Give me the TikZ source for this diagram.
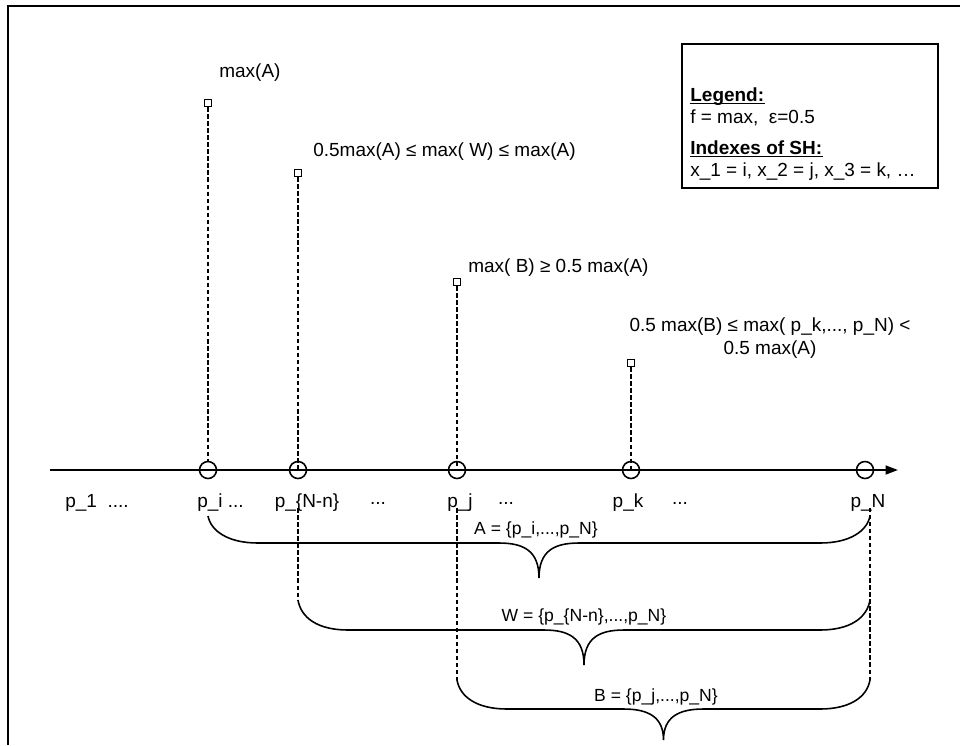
\documentclass[tikz,border=0pt]{standalone}
\usepackage{fontspec}
\setmainfont{Liberation Sans}
\usetikzlibrary{arrows.meta,positioning}
\tikzset{
  axisline/.style={-{Triangle[length=7pt,width=5pt]},line width=1.1pt},
  pointnode/.style={draw,circle,line width=0.9pt,minimum size=0.34cm,inner sep=0pt},
  marker/.style={draw,rectangle,line width=0.8pt,minimum size=0.14cm,inner sep=0pt},
  stem/.style={line width=0.8pt,dash pattern=on 2.5pt off 1.5pt},
  bracepath/.style={line width=0.9pt},
  textlabel/.style={inner sep=0pt,font=\fontsize{10.8}{13}\selectfont},
  setlabel/.style={inner sep=0pt,font=\fontsize{10}{12}\selectfont},
  legendbox/.style={draw,line width=1pt},
  headline/.style={line width=0.8pt},
  framebox/.style={line width=1.4pt}
}
% brace under a set: left x, right x, top y, line y, tip y
\newcommand{\setbrace}[5]{%
  \draw[bracepath] (#1,#3) .. controls (#1+3,#4-12) and (#1+20,#4) .. (#1+50,#4)
    -- ({(#1+#2)/2-40},#4) .. controls ({(#1+#2)/2-15},#4) and ({(#1+#2)/2},#4+8) .. ({(#1+#2)/2},#5)
    .. controls ({(#1+#2)/2},#4+8) and ({(#1+#2)/2+15},#4) .. ({(#1+#2)/2+40},#4)
    -- (#2-50,#4) .. controls (#2-20,#4) and (#2-3,#4-12) .. (#2,#3);}
\begin{document}
\begin{tikzpicture}[x=0.02cm,y=-0.02cm]
  \useasboundingbox (0,0) rectangle (960,745);
  \draw[framebox] (8,745) -- (8,6) -- (960,6);

  % Axis with points
  \coordinate (axstart) at (50,470);
  \coordinate (axend) at (898,470);
  \draw[axisline] (axstart) -- (axend);
  \node[pointnode] (ci) at (208,470) {};
  \node[pointnode] (cw) at (298,470) {};
  \node[pointnode] (cj) at (457,470) {};
  \node[pointnode] (ck) at (631,470) {};
  \node[pointnode] (cN) at (865,470) {};

  % Maxima
  \node[marker] (mi) at (208,103) {};
  \node[marker] (mw) at (298,173) {};
  \node[marker] (mj) at (457,282) {};
  \node[marker] (mk) at (631,363) {};
  \draw[stem] (mi) -- (ci);
  \draw[stem] (mw) -- (cw.center);
  \draw[stem] (mj) -- (cj.center);
  \draw[stem] (mk) -- (ck.center);

  \node[textlabel,anchor=west] (la) at (219,73) {max(A)};
  \node[textlabel,anchor=west] (lw) at (313,152) {0.5max(A) ≤ max( W) ≤ max(A)};
  \node[textlabel,anchor=west] (lb) at (468,268) {max( B) ≥ 0.5 max(A)};
  \node[textlabel,align=center] (lk) at (770,338) {0.5 max(B) ≤ max( p\_k,..., p\_N) <\\0.5 max(A)};

  % Point names
  \node[textlabel,anchor=west] (p1) at (65,503) {p\_1 \ ....};
  \node[textlabel,anchor=west] (pi) at (197,503) {p\_i ...};
  \node[textlabel] (pw) at (307,503) {p\_\{N-n\}};
  \node[textlabel] (dw) at (378,503) {...};
  \node[textlabel] (pj) at (460,503) {p\_j};
  \node[textlabel] (dj) at (506,503) {...};
  \node[textlabel] (pk) at (628,503) {p\_k};
  \node[textlabel] (dk) at (680,503) {...};
  \node[textlabel] (pN) at (868,503) {p\_N};

  % Sets
  \coordinate (wstart) at (298,600);
  \coordinate (bstart) at (457,680);
  \coordinate (nend) at (870,680);
  \draw[stem] (pw.south -| wstart) ++(0,-4) -- (wstart);
  \draw[stem] (pj.south -| bstart) ++(0,-4) -- (bstart);
  \draw[stem] (pN.south -| nend) ++(0,-4) -- (nend);
  \setbrace{208}{870}{516}{543}{578}
  \setbrace{298}{870}{600}{630}{665}
  \setbrace{457}{870}{680}{709}{740}
  \node[setlabel] (sa) at (536,530) {A = \{p\_i,...,p\_N\}};
  \node[setlabel] (sw) at (584,617) {W = \{p\_\{N-n\},...,p\_N\}};
  \node[setlabel] (sb) at (656,697) {B = \{p\_j,...,p\_N\}};

  % Legend
  \draw[legendbox] (682,44) rectangle (938,188);
  \node[textlabel,anchor=west,font=\fontsize{10.8}{13}\selectfont\bfseries] (leg) at (690,97) {Legend:};
  \node[textlabel,anchor=west] (legf) at (690,118) {f = max, \ ε=0.5};
  \node[textlabel,anchor=west,font=\fontsize{10.8}{13}\selectfont\bfseries] (legx) at (690,148) {Indexes of SH:};
  \node[textlabel,anchor=west] (legi) at (690,172) {x\_1 = i, x\_2 = j, x\_3 = k, …};
  \draw[headline] ([yshift=-1pt]leg.base west) -- ([yshift=-1pt]leg.base east);
  \draw[headline] ([yshift=-1pt]legx.base west) -- ([yshift=-1pt]legx.base east);
\end{tikzpicture}
\end{document}
